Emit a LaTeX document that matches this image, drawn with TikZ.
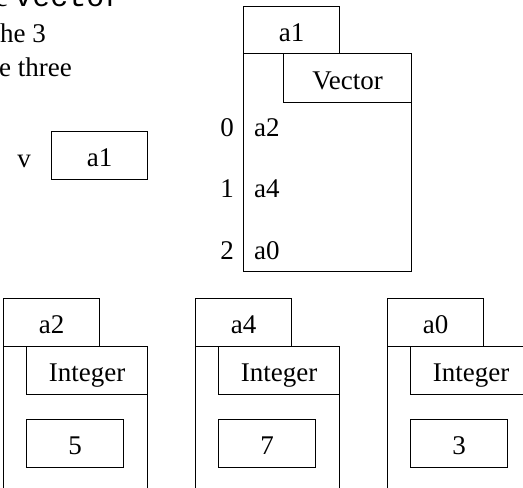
\documentclass[tikz,border=0pt]{standalone}
\usepackage{fontspec}
\setmainfont{Liberation Serif}
\setmonofont{Liberation Mono}
\begin{document}
\begin{tikzpicture}[x=1pt,y=-1pt,
  font=\fontsize{27pt}{32pt}\selectfont,
  obj/.style={draw, line width=1.1pt, anchor=north west, inner sep=0pt,
              text height=22pt, text depth=0pt},
  lbl/.style={anchor=base, inner sep=0pt},
  lblw/.style={anchor=base west, inner sep=0pt}]
\useasboundingbox (0,0) rectangle (523,488);
\clip (0,0) rectangle (523,488);
% cropped text at top left
\node[lblw] (t1) at (-4.5,6.5) {c \fontsize{30pt}{30pt}\ttfamily vector};
\node[lblw] (t2) at (0,42.5) {he 3};
\node[lblw] (t3) at (-1,76.5) {e three};
% variable v
\node[lbl] (vname) at (24,167) {v};
\node[obj, minimum width=96pt, minimum height=48pt] (vbox) at (51,131) {a1};
% Vector object
\node[obj, minimum width=168pt, minimum height=218pt] (vmain) at (243,53) {};
\node[obj, minimum width=96pt, minimum height=47pt] (vtab) at (243,6) {a1};
\node[obj, minimum width=128pt, minimum height=49pt] (vtype) at (283,53) {Vector};
\node[lbl] (i0) at (227,136) {0};
\node[lbl] (i1) at (227,197) {1};
\node[lbl] (i2) at (227,259) {2};
\node[lblw] (e0) at (254,136) {a2};
\node[lblw] (e1) at (254,197) {a4};
\node[lblw] (e2) at (254,259) {a0};
% Integer objects
\foreach \x/\n/\t/\v in {3/a/a2/5, 195/b/a4/7, 387/c/a0/3} {
  \node[obj, minimum width=144pt, minimum height=160pt] (main\n) at (\x,346) {};
  \node[obj, minimum width=96pt, minimum height=48pt] (tab\n) at (\x,298) {\t};
  \node[obj, minimum width=121pt, minimum height=48pt] (type\n) at (\x+23,346) {Integer};
  \node[obj, minimum width=97pt, minimum height=48pt] (val\n) at (\x+23,419) {\v};
}
\end{tikzpicture}
\end{document}
